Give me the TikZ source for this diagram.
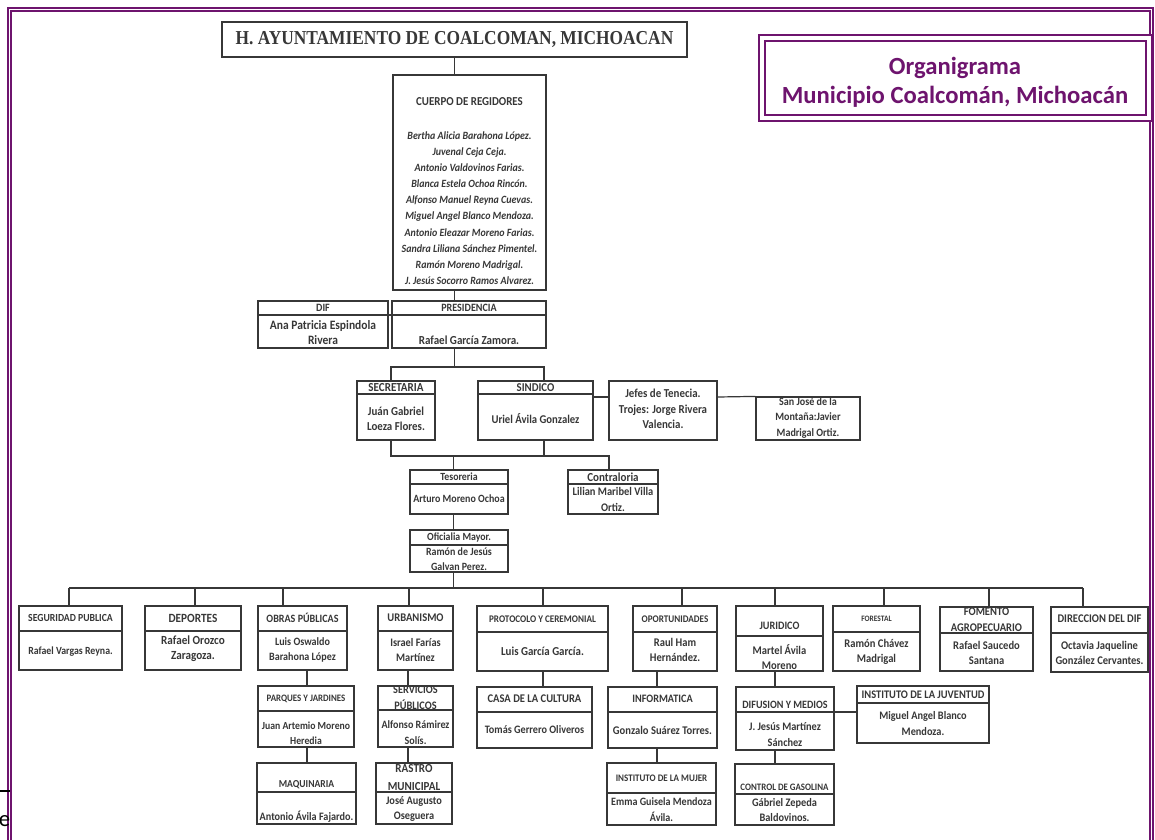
\documentclass[tikz,border=0pt]{standalone}
\usepackage{fontspec}
\setmainfont{Carlito}
\newfontfamily\orgfont{Carlito}[FakeStretch=0.9]
\newfontfamily\ttlfont{Liberation Serif}[FakeStretch=0.88]
\usepackage{tikz}
\usetikzlibrary{fit}
\definecolor{purp}{RGB}{110,20,110}
\definecolor{ink}{RGB}{55,55,55}
\tikzset{
  orgbox/.style={draw=ink, line width=0.9pt, inner sep=0pt},
  link/.style={draw=ink, line width=0.9pt},
  txt/.style={font=\orgfont\bfseries\fontsize{#1}{11.5}\selectfont, text=ink, align=center, inner sep=0pt},
  txt/.default=8.6,
  hd/.style={txt=#1},
  hd/.default=8.6,
  nm/.style={txt=#1},
  nm/.default=8.6,
  regnm/.style={text=ink, align=center, inner sep=0pt, font=\orgfont\bfseries\itshape\fontsize{8.3}{12.1}\selectfont},
}

\begin{document}
\begin{tikzpicture}[x=0.75pt, y=-0.75pt]
  \useasboundingbox (0,0) rectangle (1155,839);
  \clip (0,0) rectangle (1155,839);
  \fill[white] (0,0) rectangle (1155,839);

  % page frame (open at the bottom)
  \draw[purp, line width=1.3pt, double=white, double distance=0.8pt]
    (9.5,850) -- (9.5,9.5) -- (1151.5,9.5) -- (1151.5,850);
  \draw[black, line width=1pt] (0,791) -- (10,791);
  \node[font=\fontsize{17}{18}\selectfont, inner sep=0pt] (pgE) at (4.5,821) {e};

  % title and legend
  \node[orgbox, fit={(222,22) (687,57)}] (ttl) {};
  \node[font=\ttlfont\bfseries\fontsize{14.8}{16}\selectfont, text=ink, inner sep=0pt] (ttlT) at (ttl.center) {H. AYUNTAMIENTO DE COALCOMAN, MICHOACAN};
  \node[fit={(762,38) (1149,118)}, inner sep=0pt, draw=purp, line width=1.5pt, double=white, double distance=3pt] (leg) {};
  \node[text=purp, font=\bfseries\fontsize{18.5}{21.8}\selectfont, align=center, inner sep=0pt] (legT) at (955,82.5) {Organigrama\\Municipio Coalcomán, Michoacán};

  % boxes
  \foreach \b/\xa/\ya/\xb/\yb in {reg/393/75/546/290, dif/258/301/388/348, pres/392/301/546/348,
      sec/357/381/435/440, sin/478/381/593/440, jef/609/381/717/440, sjm/756/397/860/440,
      tes/410/470/508/514, con/568/470/658/514, ofi/410/530/508/572,
      seg/19/606/122/670, dep/145/606/241/670, obr/258/606/347/670, urb/378/606/453/670,
      pro/477/606/608/671, opo/633/606/717/671, jur/736/606/823/671, fore/833/606/920/671,
      fom/940/607/1033/671, ddif/1051/607/1148/672,
      par/258/686/354/747, ser/378/686/453/747, cas/477/687/592/748, inf/608/687/717/748,
      dfm/736/687/834/750, juv/857/686/989/743,
      maq/257/763/356/824, ras/376/763/452/824, muj/607/763/716/825, gas/735/764/834/825}
    \node[orgbox, fit={(\xa,\ya) (\xb,\yb)}] (\b) {};

  % header dividers
  \foreach \b/\y in {dif/315, pres/315, sec/394, sin/394, tes/484, con/484, ofi/545,
      seg/631, dep/631, obr/631, urb/631, pro/632, opo/632, jur/636, fore/632, fom/633, ddif/633,
      par/711, ser/710, cas/712, inf/712, dfm/712, juv/703,
      maq/792, ras/792, muj/793, gas/794}
    \draw[link] (\b.west |- 0,\y) -- (\b.east |- 0,\y);

  % upper connectors
  \coordinate (j1L) at (391,367);
  \coordinate (j1R) at (544,367);
  \coordinate (j2L) at (391,456);
  \coordinate (j2R) at (609,456);
  \coordinate (j2M) at (453.5,456);
  \coordinate (busL) at (69,588);
  \coordinate (busR) at (1083,588);
  \draw[link] (ttl.south) -- (ttl.south |- reg.north);
  \draw[link] (reg.south -| ttl.south) -- (pres.north -| ttl.south);
  \draw[link] (dif.east |- 0,315) -- (pres.west |- 0,315);
  \draw[link] (pres.south -| ttl.south) -- (ttl.south |- j1L);
  \draw[link] (sec.north -| j1L) -- (j1L) -- (j1R) -- (sin.north -| j1R);
  \draw[link] (sin.east |- 0,397) -- (jef.west |- 0,397);
  \draw[link] (jef.east |- 0,397) -- (sjm.north west);
  \draw[link] (sec.south -| j2L) -- (j2L) -- (j2R) -- (con.north -| j2R);
  \draw[link] (sin.south -| j1R) -- (j1R |- j2L);
  \draw[link] (j2M) -- (tes.north -| j2M);
  \draw[link] (tes.south -| j2M) -- (ofi.north -| j2M);
  \draw[link] (ofi.south -| j2M) -- (j2M |- busL);

  % main bus and lower connectors
  \draw[link] (busL) -- (busR);
  \foreach \b/\x in {seg/69, dep/195, obr/283, urb/409, pro/543, opo/682, jur/775, fore/884, fom/989, ddif/1083}
    \draw[link] (\x,588) -- (\b.north -| \x,588);
  \foreach \a/\b/\x in {obr/par/307, par/maq/307, urb/ser/408, ser/ras/408, pro/cas/543,
      opo/inf/657, inf/muj/657, jur/dfm/775, dfm/gas/775}
    \draw[link] (\a.south -| \x,0) -- (\b.north -| \x,0);
  \draw[link] (dfm.east |- 0,712) -- (juv.west |- 0,712);

  % texts, upper part
  \node[hd=9.1] (regH) at (reg.north |- 0,102) {CUERPO DE REGIDORES};
  \node[regnm] (regN) at (reg.north |- 0,208) {Bertha Alicia Barahona López.\\Juvenal Ceja Ceja.\\Antonio Valdovinos Farias.\\Blanca Estela Ochoa Rincón.\\Alfonso Manuel Reyna Cuevas.\\Miguel Angel Blanco Mendoza.\\Antonio Eleazar Moreno Farias.\\Sandra Liliana Sánchez Pimentel.\\Ramón Moreno Madrigal.\\J. Jesús Socorro Ramos Alvarez.};
  \node[hd=8.4] (difH) at (dif.north |- 0,308) {DIF};
  \node[nm=9.6] (difN) at (dif.north |- 0,332.5) {Ana Patricia Espindola\\Rivera};
  \node[hd=8.4] (presH) at (pres.north |- 0,308) {PRESIDENCIA};
  \node[nm=9.2] (presN) at (pres.north |- 0,340) {Rafael García Zamora.};
  \node[hd=9.2] (secH) at (sec.north |- 0,388) {SECRETARIA};
  \node[nm=9.1] (secN) at (sec.north |- 0,418.5) {Juán Gabriel\\Loeza Flores.};
  \node[hd=9] (sinH) at (sin.north |- 0,388) {SINDICO};
  \node[nm=8.9] (sinN) at (sin.north |- 0,419) {Uriel Ávila Gonzalez};
  \node[nm=9.1] (jefN) at (jef.north |- 0,409) {Jefes de Tenecia.\\Trojes: Jorge Rivera\\Valencia.};
  \node[nm=8.4] (sjmN) at (sjm.north |- 0,418) {San José de la\\Montaña:Javier\\Madrigal Ortiz.};
  \node[hd=8.2] (tesH) at (tes.north |- 0,477) {Tesoreria};
  \node[nm=8.3] (tesN) at (tes.north |- 0,499) {Arturo Moreno Ochoa};
  \node[hd=9.2] (conH) at (con.north |- 0,477) {Contraloria};
  \node[nm=8.7] (conN) at (con.north |- 0,499.5) {Lilian Maribel Villa\\Ortiz.};
  \node[hd=8.2] (ofiH) at (ofi.north |- 0,537.5) {Oficialia Mayor.};
  \node[nm=8.3] (ofiN) at (ofi.north |- 0,559) {Ramón de Jesús\\Galvan Perez.};

  % texts, first row
  \node[hd=8.1] (segH) at (seg.north |- 0,618) {SEGURIDAD PUBLICA};
  \node[nm=8.2] (segN) at (seg.north |- 0,652) {Rafael Vargas Reyna.};
  \node[hd=9.4] (depH) at (dep.north |- 0,618) {DEPORTES};
  \node[nm=9.3] (depN) at (dep.north |- 0,649) {Rafael Orozco\\Zaragoza.};
  \node[hd=8.4] (obrH) at (obr.north |- 0,618) {OBRAS PÚBLICAS};
  \node[nm=8.4] (obrN) at (obr.north |- 0,650) {Luis Oswaldo\\Barahona López};
  \node[hd=8.8] (urbH) at (urb.north |- 0,618) {URBANISMO};
  \node[nm=8.6] (urbN) at (urb.north |- 0,650) {Israel Farías\\Martínez};
  \node[hd=7.6] (proH) at (pro.north |- 0,619) {PROTOCOLO Y CEREMONIAL};
  \node[nm=9.1] (proN) at (pro.north |- 0,651) {Luis García García.};
  \node[hd=7.6] (opoH) at (opo.north |- 0,619) {OPORTUNIDADES};
  \node[nm=8.8] (opoN) at (opo.north |- 0,650) {Raul Ham\\Hernández.};
  \node[hd=8.5] (jurH) at (jur.north |- 0,626) {JURIDICO};
  \node[nm=8.8] (jurN) at (jur.north |- 0,657) {Martel Ávila\\Moreno};
  \node[hd=6.2] (foreH) at (fore.north |- 0,619) {FORESTAL};
  \node[nm=8.8] (foreN) at (fore.north |- 0,652) {Ramón Chávez\\Madrigal};
  \node[hd, font=\orgfont\bfseries\fontsize{8.8}{12}\selectfont] (fomH) at (fom.north |- 0,620) {FOMENTO\\AGROPECUARIO};
  \node[nm=8.8] (fomN) at (fom.north |- 0,653) {Rafael Saucedo\\Santana};
  \node[hd=8.8] (ddifH) at (ddif.north |- 0,619) {DIRECCION DEL DIF};
  \node[nm=8.8] (ddifN) at (ddif.north |- 0,653) {Octavia Jaqueline\\González Cervantes.};

  % texts, second row
  \node[hd=7.4] (parH) at (par.north |- 0,699) {PARQUES Y JARDINES};
  \node[nm=8.1] (parN) at (par.north |- 0,733) {Juan Artemio Moreno\\Heredia};
  \node[hd, font=\orgfont\bfseries\fontsize{8.6}{12}\selectfont] (serH) at (ser.north |- 0,698) {SERVICIOS\\PÚBLICOS};
  \node[nm=8.4] (serN) at (ser.north |- 0,732.5) {Alfonso Rámirez\\Solís.};
  \node[hd=8.8] (casH) at (cas.north |- 0,699) {CASA DE LA CULTURA};
  \node[nm=8.5] (casN) at (cas.north |- 0,730) {Tomás Gerrero Oliveros};
  \node[hd=8.5] (infH) at (inf.north |- 0,699) {INFORMATICA};
  \node[nm=8.8] (infN) at (inf.north |- 0,730) {Gonzalo Suárez Torres.};
  \node[hd=8.4] (dfmH) at (dfm.north |- 0,705) {DIFUSION Y MEDIOS};
  \node[nm=8.6] (dfmN) at (dfm.north |- 0,734.5) {J. Jesús Martínez\\Sánchez};
  \node[hd=8.7] (juvH) at (juv.north |- 0,695) {INSTITUTO DE LA JUVENTUD};
  \node[nm=8.6] (juvN) at (juv.north |- 0,723.5) {Miguel Angel Blanco\\Mendoza.};

  % texts, third row
  \node[hd=8] (maqH) at (maq.north |- 0,785) {MAQUINARIA};
  \node[nm=8.5] (maqN) at (maq.north |- 0,817) {Antonio Ávila Fajardo.};
  \node[hd, font=\orgfont\bfseries\fontsize{9.2}{13.5}\selectfont] (rasH) at (ras.north |- 0,778) {RASTRO\\MUNICIPAL};
  \node[nm=8.6] (rasN) at (ras.north |- 0,809) {José Augusto\\Oseguera};
  \node[hd=7.5] (mujH) at (muj.north |- 0,778) {INSTITUTO DE LA MUJER};
  \node[nm=8.4] (mujN) at (muj.north |- 0,809.5) {Emma Guisela Mendoza\\Ávila.};
  \node[hd=7.4] (gasH) at (gas.north |- 0,787) {CONTROL DE GASOLINA};
  \node[nm=8.6] (gasN) at (gas.north |- 0,810) {Gábriel Zepeda\\Baldovinos.};
\end{tikzpicture}
\end{document}
